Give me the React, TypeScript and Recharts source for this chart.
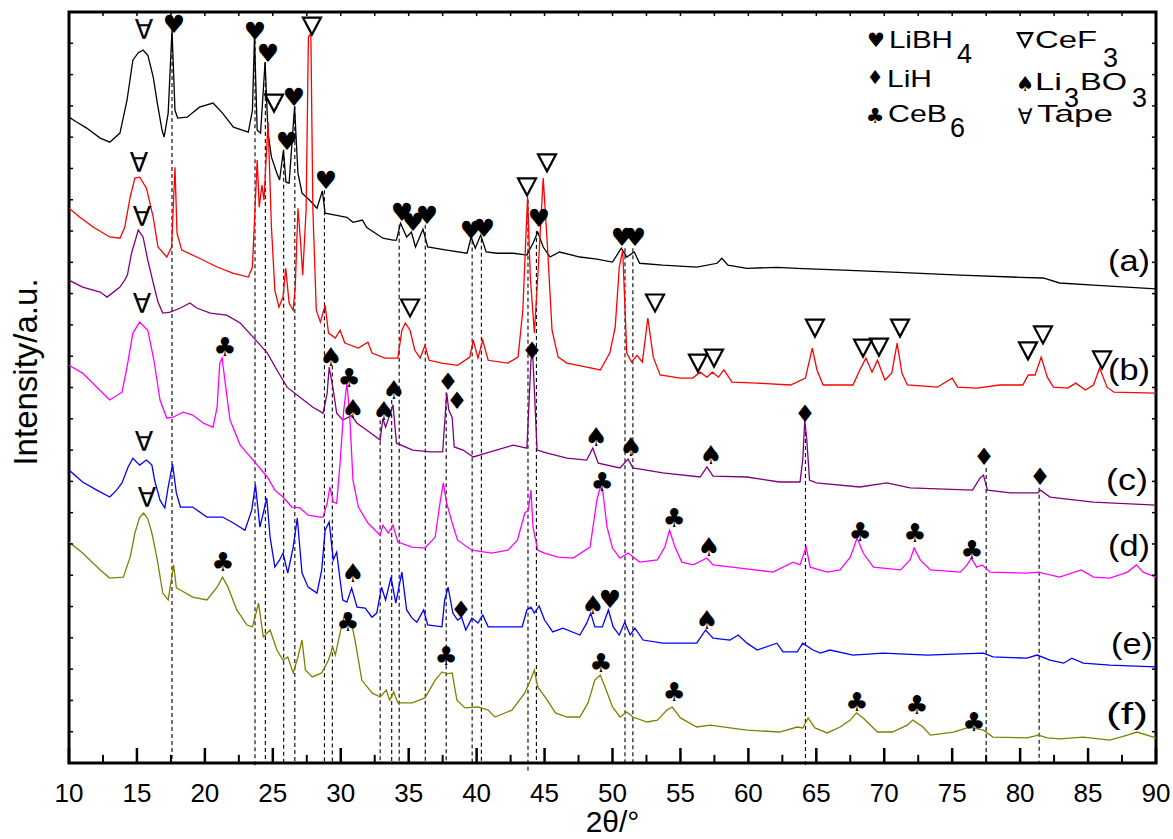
import React from 'react';
import { ComposedChart, Line, Scatter, XAxis, YAxis, ReferenceLine, ReferenceArea } from 'recharts';

type P = [number, number];

const traceA: P[] = [[10,20.64],[10.5,20.5],[11.3,20.29],[12.3,19.97],[13.0,19.84],[13.75,20.13],[14.27,21.18],[14.7,22.46],[15.1,22.7],[15.45,22.78],[15.8,22.62],[16.2,21.92],[16.5,21.09],[16.85,20.22],[17.0,20.0],[17.3,20.77],[17.58,23.42],[17.8,20.86],[18.0,20.61],[18.7,20.64],[19.6,20.96],[20.6,21.09],[21.3,20.77],[22.1,20.32],[23.2,20.16],[23.5,20.86],[23.65,23.2],[23.85,20.22],[24.1,20.13],[24.43,22.4],[24.65,20.13],[24.9,19.36],[25.3,18.85],[25.5,18.63],[25.78,19.58],[25.97,18.56],[26.2,18.53],[26.6,20.96],[26.85,18.85],[27.15,18.21],[27.7,17.99],[28.25,17.73],[28.65,18.28],[28.85,17.57],[29.7,17.5],[30.45,17.44],[30.9,17.28],[31.6,17.35],[31.9,17.12],[33.1,16.77],[33.85,16.71],[34.1,16.71],[34.4,17.25],[34.85,16.81],[35.2,16.97],[35.5,16.49],[36.05,17.06],[36.4,16.49],[37.8,16.39],[39.3,16.29],[39.6,16.81],[39.9,16.45],[40.3,16.87],[40.7,16.33],[41.5,16.29],[42.7,16.29],[43.7,16.23],[44.15,16.61],[44.5,16.97],[44.9,16.49],[45.4,16.17],[46.1,16.33],[47.6,16.17],[48.85,16.1],[50.0,16.01],[50.65,16.45],[51.05,16.17],[51.6,16.33],[52.0,15.97],[53.7,15.91],[56.2,15.85],[57.7,15.97],[58.05,16.13],[58.5,15.91],[59.9,15.81],[62.1,15.84],[64,15.8],[67,15.75],[70.6,15.69],[75.6,15.59],[80,15.52],[81.7,15.5],[82.9,15.34],[85.4,15.27],[90,15.15]];

const traceB: P[] = [[10,17.73],[10.8,17.44],[11.8,17.12],[13.0,16.81],[13.75,16.77],[14.1,17.12],[14.5,18.08],[14.85,18.69],[15.2,18.72],[15.7,18.37],[16.2,17.44],[16.55,16.49],[17.2,16.17],[17.55,16.49],[17.8,19.04],[17.95,16.93],[18.3,16.39],[19.6,16.13],[20.9,15.85],[22.1,15.65],[23.2,15.53],[23.5,15.85],[23.85,19.27],[24.0,17.76],[24.2,18.47],[24.35,17.99],[24.65,20.48],[24.9,17.12],[25.15,15.11],[25.45,14.57],[25.75,14.89],[25.95,15.81],[26.2,14.7],[26.5,14.47],[26.65,15.21],[26.85,17.73],[27.05,16.61],[27.2,15.59],[27.45,17.67],[27.62,23.2],[27.8,23.32],[27.95,17.67],[28.2,14.47],[28.5,14.09],[28.85,14.63],[29.1,13.74],[29.6,13.58],[29.95,13.83],[30.3,13.42],[31.3,13.26],[32.0,13.45],[32.3,13.1],[33.25,12.94],[34.2,12.94],[34.5,13.83],[34.75,14.06],[35.1,13.83],[35.45,13.19],[35.85,12.94],[36.2,13.35],[36.5,12.87],[37.45,12.78],[38.6,12.71],[39.5,12.97],[39.75,13.51],[40.1,12.94],[40.45,13.51],[40.85,12.87],[42.3,12.78],[43.05,12.97],[43.4,14.47],[43.75,18.09],[43.95,15.53],[44.25,13.74],[44.5,15.53],[44.9,18.69],[45.2,16.61],[45.55,13.83],[46.0,12.97],[46.65,12.78],[48.1,12.65],[49.1,12.56],[49.8,13.1],[50.2,13.93],[50.5,15.85],[50.75,16.39],[51.05,13.1],[51.4,12.81],[51.8,13.03],[52.2,12.81],[52.6,14.22],[53.0,12.97],[53.5,12.4],[55.0,12.3],[55.9,12.3],[56.45,12.49],[56.95,12.33],[57.35,12.49],[57.8,12.33],[58.2,12.56],[58.8,12.17],[60.65,12.14],[63.1,12.08],[64.2,12.3],[64.7,13.26],[65.05,12.56],[65.5,12.08],[67.7,12.08],[68.2,12.56],[68.65,12.94],[69.1,12.49],[69.5,12.87],[70.05,12.24],[70.55,12.46],[70.95,13.42],[71.3,12.46],[71.7,12.08],[73.9,12.01],[75.0,12.3],[75.4,12.01],[76.8,11.98],[78.5,12.08],[80.2,12.08],[80.6,12.4],[81.1,12.4],[81.55,12.97],[82.0,12.33],[82.45,12.01],[83.5,11.98],[84.1,12.14],[84.8,11.92],[85.4,12.08],[85.85,12.62],[86.4,12.01],[86.9,11.85],[90,11.82]];

const traceC: P[] = [[10,15.43],[11.0,15.21],[12.3,15.05],[12.8,14.89],[13.75,15.21],[14.1,15.43],[14.3,15.6],[14.6,16.29],[15.1,17.03],[15.45,16.81],[15.8,16.07],[16.2,15.34],[16.55,14.73],[16.9,14.38],[17.45,14.41],[18.2,14.54],[18.9,14.7],[19.4,14.54],[20.4,14.38],[21.6,14.31],[22.6,14.06],[23.55,13.61],[24.6,13.1],[25.3,12.56],[26.05,12.01],[27.0,11.69],[27.95,11.37],[28.7,11.18],[29.0,11.82],[29.15,12.65],[29.45,11.92],[29.7,11.18],[30.15,10.96],[30.8,11.1],[31.2,10.86],[31.9,10.64],[32.9,10.32],[33.1,11.0],[33.3,10.73],[33.85,11.45],[34.1,10.22],[35.3,10.0],[36.6,9.94],[37.5,9.94],[37.8,11.82],[37.95,11.28],[38.2,11.05],[38.35,10.1],[39.0,10.0],[39.75,9.78],[41.0,9.94],[42.7,10.16],[43.7,10.06],[44.0,12.87],[44.12,13.13],[44.45,10.0],[45.2,9.9],[46.65,9.74],[48.1,9.68],[48.55,10.06],[48.95,9.58],[50.55,9.43],[51.15,9.71],[51.5,9.43],[53.7,9.27],[56.45,9.14],[56.95,9.46],[57.4,9.17],[59.9,9.14],[62.3,8.98],[63.8,8.98],[64.0,9.68],[64.15,10.96],[64.3,10.32],[64.5,9.04],[65.0,8.95],[68.2,8.82],[70.2,8.95],[71.9,8.79],[76.5,8.72],[77.05,9.11],[77.3,9.2],[77.6,8.72],[79.3,8.63],[81.3,8.63],[81.5,8.72],[82.2,8.5],[85.4,8.34],[90,8.24]];

const traceD: P[] = [[10,12.71],[11.0,12.46],[12.05,12.01],[13.0,11.6],[13.9,11.85],[14.27,12.65],[14.7,13.74],[15.2,14.09],[15.8,13.83],[16.25,12.87],[16.7,11.6],[17.2,11.02],[17.65,11.05],[18.4,11.21],[19.1,11.12],[19.9,10.86],[20.6,10.73],[20.9,11.37],[21.1,12.78],[21.27,12.94],[21.5,12.14],[21.85,10.96],[22.6,10.16],[23.55,9.68],[24.6,9.14],[25.15,8.72],[25.75,8.5],[26.4,8.18],[27.0,8.15],[27.6,7.92],[28.5,7.86],[28.7,7.86],[29.0,8.3],[29.2,8.82],[29.45,8.34],[29.7,8.3],[29.95,9.58],[30.2,11.18],[30.45,12.14],[30.65,11.18],[30.9,9.04],[31.3,8.18],[32.0,7.67],[32.9,7.28],[33.1,7.6],[33.5,7.35],[33.85,7.6],[34.2,7.06],[35.25,6.9],[36.2,6.87],[36.95,7.22],[37.3,8.3],[37.55,8.95],[37.8,8.3],[38.2,7.67],[38.6,7.12],[39.65,6.8],[41.1,6.71],[42.3,6.8],[43.0,7.12],[43.55,7.99],[43.8,8.08],[44.0,8.72],[44.15,7.54],[44.5,6.8],[45.0,6.71],[46.0,6.58],[47.1,6.55],[48.35,6.9],[48.85,8.4],[49.1,8.82],[49.3,8.63],[49.6,7.54],[50.0,6.87],[50.55,6.55],[51.15,6.71],[52.0,6.42],[53.3,6.49],[53.85,6.9],[54.2,7.44],[54.6,6.9],[55.1,6.42],[55.95,6.33],[56.95,6.55],[57.4,6.33],[59.4,6.23],[61.8,6.1],[63.3,6.42],[63.8,6.33],[64.25,6.9],[64.55,6.26],[65.8,6.1],[66.75,6.17],[67.5,6.58],[68.0,7.19],[68.45,6.71],[69.2,6.26],[71.2,6.17],[71.9,6.49],[72.2,6.87],[72.65,6.49],[73.4,6.17],[75.6,6.1],[76.1,6.33],[76.4,6.55],[76.8,6.26],[77.2,6.33],[77.8,6.1],[80.5,6.07],[81.35,6.1],[82.9,5.94],[84.5,6.17],[85.4,5.94],[86.6,5.91],[87.9,6.1],[88.55,6.33],[89.05,6.1],[90,5.94]];

const traceE: P[] = [[10,9.36],[11.0,8.98],[12.05,8.72],[13.0,8.5],[13.5,8.72],[13.9,8.95],[14.35,9.46],[14.7,9.74],[15.2,9.52],[15.7,9.68],[16.1,9.52],[16.3,9.04],[16.7,8.4],[17.05,8.15],[17.3,8.82],[17.62,9.55],[17.9,8.63],[18.2,8.18],[19.1,8.18],[20.15,7.86],[21.3,7.86],[22.1,7.67],[22.95,7.44],[23.45,8.08],[23.72,8.9],[24.05,7.54],[24.3,7.99],[24.55,8.47],[24.8,7.22],[25.15,6.26],[25.5,6.49],[25.75,6.71],[26.1,6.07],[26.5,6.9],[26.8,7.83],[27.15,6.07],[27.6,5.62],[28.25,5.43],[28.6,6.17],[28.85,7.44],[29.15,7.7],[29.45,6.49],[29.7,6.74],[29.95,5.85],[30.15,5.21],[30.45,5.14],[30.8,5.59],[31.2,4.98],[31.8,4.95],[32.3,4.66],[32.65,4.79],[33.0,5.62],[33.3,5.21],[33.7,5.94],[34.05,5.11],[34.5,6.1],[34.85,4.89],[35.25,4.63],[35.6,4.5],[36.1,4.89],[36.4,4.41],[37.45,4.35],[37.65,5.21],[37.9,5.62],[38.25,4.79],[38.6,4.57],[38.9,4.66],[39.2,4.25],[39.65,4.63],[40.1,4.47],[40.45,4.73],[40.85,4.35],[42.3,4.35],[43.35,4.35],[43.7,4.89],[44.0,4.98],[44.25,4.79],[44.6,5.02],[45.0,4.57],[45.6,4.19],[46.35,4.31],[47.6,4.09],[48.1,4.47],[48.4,4.79],[48.7,4.35],[49.25,4.35],[49.7,4.89],[50.05,4.35],[50.5,4.09],[50.9,4.5],[51.3,4.09],[51.65,4.31],[52.25,3.93],[53.7,3.83],[56.2,3.83],[56.85,4.25],[57.4,3.99],[58.65,3.93],[59.25,4.09],[59.9,3.83],[60.65,3.61],[62.1,3.83],[62.55,3.55],[63.6,3.55],[64.0,3.83],[64.75,3.61],[65.3,3.51],[66.0,3.61],[67.7,3.45],[69.9,3.51],[73.2,3.45],[75.1,3.48],[77.3,3.51],[78.0,3.39],[80.5,3.35],[81.25,3.45],[82.2,3.29],[83.2,3.19],[83.8,3.35],[84.65,3.19],[86.6,3.13],[90,3.07]];

const traceF: P[] = [[10,7.06],[11.0,6.71],[12.3,6.17],[13.0,5.91],[14.0,5.94],[14.5,6.58],[14.85,7.35],[15.2,7.85],[15.5,7.99],[15.8,7.8],[16.1,7.35],[16.5,6.49],[16.9,5.43],[17.3,5.21],[17.7,6.33],[17.9,5.6],[18.2,5.53],[19.1,5.3],[20.15,5.21],[20.9,5.62],[21.3,5.94],[21.7,5.62],[22.35,4.89],[23.1,4.41],[23.5,4.35],[23.95,5.11],[24.3,4.03],[24.8,4.25],[25.3,3.61],[25.75,3.29],[26.1,3.39],[26.5,2.88],[26.85,3.39],[27.15,3.93],[27.4,2.97],[27.9,2.75],[28.6,2.88],[29.1,3.29],[29.4,3.71],[29.6,3.45],[29.95,4.15],[30.3,4.79],[30.7,4.66],[31.05,3.93],[31.55,2.65],[32.3,2.24],[32.9,2.11],[33.35,2.33],[33.6,2.01],[33.9,2.27],[34.2,1.92],[35.25,1.92],[36.2,2.08],[36.95,2.65],[37.45,2.91],[37.8,2.85],[38.2,2.88],[38.55,2.01],[39.15,1.76],[40.1,1.79],[40.85,1.69],[41.35,1.47],[42.6,1.69],[43.55,2.24],[43.9,2.59],[44.25,2.97],[44.5,2.43],[45.2,2.01],[45.8,1.6],[46.65,1.47],[47.6,1.47],[48.2,1.92],[48.7,2.65],[49.1,2.81],[49.45,2.43],[50.0,1.79],[50.55,1.47],[51.05,1.63],[51.5,1.47],[52.55,1.31],[53.3,1.37],[54.0,1.69],[54.4,1.79],[55.0,1.44],[56.2,1.15],[57.2,1.21],[58.65,1.12],[59.9,1.05],[62.3,0.99],[63.6,1.15],[64.0,1.12],[64.4,1.44],[64.9,1.12],[65.8,0.96],[66.75,1.15],[67.5,1.37],[67.95,1.6],[68.45,1.44],[69.5,0.99],[70.6,0.99],[71.7,1.21],[72.1,1.37],[72.85,1.15],[73.4,0.89],[75.1,0.99],[76.1,1.12],[76.5,1.12],[77.3,1.05],[78.0,0.83],[80.5,0.8],[81.35,0.89],[82.0,0.8],[82.9,0.77],[84.65,0.83],[86.6,0.73],[87.9,0.89],[88.6,0.99],[90,0.8]];

const seriesColors = ['#000000', '#FF0000', '#800080', '#FF00FF', '#0000FF', '#808000'];
const seriesData: P[][] = [traceA, traceB, traceC, traceD, traceE, traceF];

const xLabelTicks = [10, 15, 20, 25, 30, 35, 40, 45, 50, 55, 60, 65, 70, 75, 80, 85, 90];
const xAllTicks = [10, 12.5, 15, 17.5, 20, 22.5, 25, 27.5, 30, 32.5, 35, 37.5, 40, 42.5, 45, 47.5, 50, 52.5, 55, 57.5, 60, 62.5, 65, 67.5, 70, 72.5, 75, 77.5, 80, 82.5, 85, 87.5, 90];
const yTicks = [1, 2, 3, 4, 5, 6, 7, 8, 9, 10, 11, 12, 13, 14, 15, 16, 17, 18, 19, 20, 21, 22, 23];

// [2theta, top, bottom]
const dashLines: [number, number, number][] = [[17.58, 23.3, 0], [23.69, 23.1, -0.16], [24.45, 22.4, 0], [25.8, 19.6, 0], [26.62, 21.0, 0], [28.8, 18.3, 0], [29.38, 12.7, 0], [32.9, 10.95, 0], [33.75, 11.6, 0], [34.3, 17.2, 0], [36.22, 17.2, 0], [37.76, 11.85, 0], [39.67, 16.7, 0], [40.35, 16.75, 0], [43.78, 18.0, -0.32], [44.4, 17.0, 0], [50.92, 16.45, 0], [51.5, 16.45, 0], [64.2, 10.8, -0.16], [77.5, 9.43, 0], [81.4, 8.8, 0]];

// H=LiBH4, T=CeF3, D=LiH, S=Li3BO3, C=CeB6, A=Tape
const markers: [number, number, string][] = [
  [15.52, 23.43, 'A'], [17.73, 23.59, 'H'], [23.69, 23.39, 'H'], [24.65, 22.66, 'H'], [25.09, 21.09, 'T'], [26.56, 21.28, 'H'], [26.04, 19.85, 'H'], [27.88, 23.55, 'T'], [28.91, 18.6, 'H'], [34.51, 17.58, 'H'], [35.32, 17.26, 'H'], [36.35, 17.51, 'H'], [39.59, 17.03, 'H'], [40.54, 17.09, 'H'], [43.71, 18.41, 'T'], [45.18, 19.18, 'T'], [44.59, 17.39, 'H'], [50.7, 16.78, 'H'], [51.66, 16.78, 'H'],
  [15.15, 19.18, 'A'], [35.1, 14.54, 'T'], [53.13, 14.7, 'T'], [56.29, 12.78, 'T'], [57.47, 12.94, 'T'], [64.9, 13.9, 'T'], [68.44, 13.26, 'T'], [69.61, 13.29, 'T'], [71.16, 13.9, 'T'], [80.58, 13.17, 'T'], [81.68, 13.68, 'T'], [86.03, 12.88, 'T'],
  [15.37, 17.45, 'A'], [29.28, 12.98, 'S'], [30.9, 11.31, 'S'], [33.18, 11.25, 'S'], [33.92, 11.92, 'S'], [37.89, 12.18, 'D'], [38.56, 11.57, 'D'], [44.08, 13.17, 'D'], [48.79, 10.42, 'S'], [51.36, 10.1, 'S'], [57.25, 9.84, 'S'], [64.17, 11.15, 'D'], [77.34, 9.78, 'D'], [81.46, 9.14, 'D'],
  [15.37, 14.7, 'A'], [21.48, 13.29, 'C'], [30.61, 12.3, 'C'], [49.23, 8.98, 'C'], [54.53, 7.83, 'C'], [57.1, 6.9, 'S'], [68.22, 7.38, 'C'], [72.26, 7.35, 'C'], [76.46, 6.81, 'C'],
  [15.52, 10.26, 'A'], [30.9, 6.07, 'S'], [38.85, 4.89, 'D'], [48.56, 5.05, 'S'], [49.82, 5.21, 'H'], [56.95, 4.57, 'S'],
  [15.74, 8.47, 'A'], [21.33, 6.42, 'C'], [30.53, 4.51, 'C'], [37.75, 3.42, 'C'], [49.15, 3.2, 'C'], [54.53, 2.27, 'C'], [67.99, 1.95, 'C'], [72.41, 1.85, 'C'], [76.6, 1.31, 'C'],
];

const sampleLabels = ['(a)', '(b)', '(c)', '(d)', '(e)', '(f)'];
const sampleLabelPos: P[] = [[89.56, 15.72], [89.56, 12.24], [89.41, 8.72], [89.56, 6.62], [89.78, 3.48], [89.41, 1.25]];

// legend: anchor (glyph centre), symbol, main text, subscript, second main, second subscript
const legendSym = ['H', 'T', 'D', 'S', 'C', 'A'];
const legendMain = ['LiBH', 'CeF', 'LiH', 'Li', 'CeB', 'Tape'];
const legendSub = ['4', '3', '', '3', '6', ''];
const legendMain2 = ['', '', '', 'BO', '', ''];
const legendSub2 = ['', '', '', '3', '', ''];
const legendPos: P[] = [[69.39, 23.11], [80.36, 23.11], [69.32, 21.92], [80.36, 21.7], [69.32, 20.68], [80.36, 20.65]];

const GLYPH: Record<string, string> = { H: '\u2665', D: '\u2666', S: '\u2660', C: '\u2663', A: '\u2200' };
const GSIZE: Record<string, number> = { H: 25, D: 24, S: 26, C: 26, A: 27 };
const FONT = '"Liberation Sans", Arial, sans-serif';

const toPts = (a: P[]) => a.map(([x, y]) => ({ x, y }));

function Glyph({ cx, cy, s, scale = 1 }: { cx: number; cy: number; s: string; scale?: number }) {
  if (s === 'T') {
    const w = 9 * scale, h = 8.5 * scale;
    return <polygon points={`${cx - w},${cy - h} ${cx + w},${cy - h} ${cx},${cy + h}`} fill="none" stroke="#000" strokeWidth={2.2} />;
  }
  return (
    <text x={cx} y={cy} textAnchor="middle" dominantBaseline="central" fontFamily='"DejaVu Sans", sans-serif' fontSize={GSIZE[s] * scale} fill="#000">
      {GLYPH[s]}
    </text>
  );
}

const MarkerShape = (props: any) => {
  const { cx, cy, payload } = props;
  if (cx == null || cy == null) return <g />;
  return <Glyph cx={cx} cy={cy} s={payload.s} />;
};

const LabelShape = (props: any) => {
  const { cx, cy, payload } = props;
  return (
    <text x={cx} y={cy} textAnchor="end" fontFamily={FONT} fontSize={30} textLength={42} lengthAdjust="spacingAndGlyphs" fill="#000">
      {payload.t}
    </text>
  );
};

const LegendShape = (props: any) => {
  const { cx, cy, payload } = props;
  const i = payload.i;
  const mainW = [64, 62, 45, 27, 59, 76][i];
  const mainDx = [13, 10, 12, 10, 13, 12][i];
  const mainDy = [8, 8, 10, 6, 6, 5][i];
  const subDx = [81, 78, 0, 39, 75, 0][i];
  const subDy = [23, 27, 0, 23, 21, 0][i];
  return (
    <g>
      <Glyph cx={cx} cy={cy} s={legendSym[i]} scale={0.8} />
      <text x={cx + mainDx} y={cy + mainDy} fontFamily={FONT} fontSize={24} textLength={mainW} lengthAdjust="spacingAndGlyphs" fill="#000">{legendMain[i]}</text>
      {legendSub[i] && (
        <text x={cx + subDx} y={cy + subDy} fontFamily={FONT} fontSize={28} textLength={15} lengthAdjust="spacingAndGlyphs" fill="#000">{legendSub[i]}</text>
      )}
      {legendMain2[i] && (
        <text x={cx + 55} y={cy + mainDy} fontFamily={FONT} fontSize={24} textLength={47} lengthAdjust="spacingAndGlyphs" fill="#000">{legendMain2[i]}</text>
      )}
      {legendSub2[i] && (
        <text x={cx + 107} y={cy + subDy} fontFamily={FONT} fontSize={28} textLength={15} lengthAdjust="spacingAndGlyphs" fill="#000">{legendSub2[i]}</text>
      )}
    </g>
  );
};

const XTick = (props: any) => {
  const { x, y, payload } = props;
  return (
    <text x={x} y={y + 38.5} textAnchor="middle" fontFamily={FONT} fontSize={26} fill="#000">
      {payload.value}
    </text>
  );
};

const XTitle = (props: any) => {
  const vb = props.viewBox || { x: 69, y: 763, width: 1087, height: 76 };
  return (
    <text x={vb.x + vb.width / 2} y={vb.y + 69} textAnchor="middle" fontFamily={FONT} fontSize={30} fill="#000">
      2θ/°
    </text>
  );
};

const YTitle = (props: any) => {
  const vb = props.viewBox || { x: 0, y: 12, width: 69, height: 751 };
  const cx = vb.x + 36.5;
  const cy = vb.y + vb.height / 2 - 15.5;
  return (
    <text x={cx} y={cy} transform={`rotate(-90 ${cx} ${cy})`} textAnchor="middle" fontFamily={FONT} fontSize={33} fill="#000">
      Intensity/a.u.
    </text>
  );
};

export default function App() {
  const markerPts = markers.map(([x, y, s]) => ({ x, y, s }));
  const labelPts = sampleLabelPos.map(([x, y], i) => ({ x, y, t: sampleLabels[i] }));
  const legendPts = legendPos.map(([x, y], i) => ({ x, y, i }));
  return (
    <div style={{ position: 'absolute', left: 0, top: 0, width: 1173, height: 839, background: '#fff' }}>
      <ComposedChart width={1173} height={839} margin={{ top: 12, right: 17, bottom: 0, left: 0 }}>
        <XAxis
          type="number"
          dataKey="x"
          domain={[10, 90]}
          allowDataOverflow
          ticks={xLabelTicks}
          interval={0}
          tickLine={false}
          axisLine={false}
          tickSize={0}
          tickMargin={0}
          height={76}
          tick={XTick}
          label={<XTitle />}
        />
        <YAxis
          type="number"
          dataKey="y"
          domain={[0, 24]}
          allowDataOverflow
          tick={false}
          tickLine={false}
          axisLine={false}
          width={69}
          label={<YTitle />}
        />
        {dashLines.map(([x, y1, y2], i) => (
          <ReferenceLine key={'d' + i} segment={[{ x, y: y1 }, { x, y: y2 }]} stroke="#000" strokeWidth={1.1} strokeDasharray="4 3" ifOverflow="visible" />
        ))}
        {seriesData.map((d, i) => (
          <Line key={'s' + i} data={toPts(d)} dataKey="y" type="linear" stroke={seriesColors[i]} strokeWidth={1.3} dot={false} activeDot={false} isAnimationActive={false} />
        ))}
        <Scatter data={markerPts} dataKey="y" shape={MarkerShape} isAnimationActive={false} />
        <Scatter data={labelPts} dataKey="y" shape={LabelShape} isAnimationActive={false} />
        <Scatter data={legendPts} dataKey="y" shape={LegendShape} isAnimationActive={false} />
        {xAllTicks.map((t, i) => (
          <ReferenceLine key={'bt' + i} segment={[{ x: t, y: 0 }, { x: t, y: t % 5 === 0 ? 0.48 : 0.26 }]} stroke="#000" strokeWidth={t % 5 === 0 ? 2.5 : 2} ifOverflow="visible" />
        ))}
        {xAllTicks.map((t, i) => (
          <ReferenceLine key={'tt' + i} segment={[{ x: t, y: 24 }, { x: t, y: 23.87 }]} stroke="#000" strokeWidth={1.5} ifOverflow="visible" />
        ))}
        {yTicks.map((t, i) => (
          <ReferenceLine key={'lt' + i} segment={[{ x: 10, y: t }, { x: 10.3, y: t }]} stroke="#000" strokeWidth={1.5} ifOverflow="visible" />
        ))}
        {yTicks.map((t, i) => (
          <ReferenceLine key={'rt' + i} segment={[{ x: 90, y: t }, { x: 89.7, y: t }]} stroke="#000" strokeWidth={1.5} ifOverflow="visible" />
        ))}
        <ReferenceArea x1={10} x2={90} y1={0} y2={24} fill="none" fillOpacity={0} stroke="#000" strokeWidth={3} ifOverflow="visible" />
      </ComposedChart>
    </div>
  );
}
